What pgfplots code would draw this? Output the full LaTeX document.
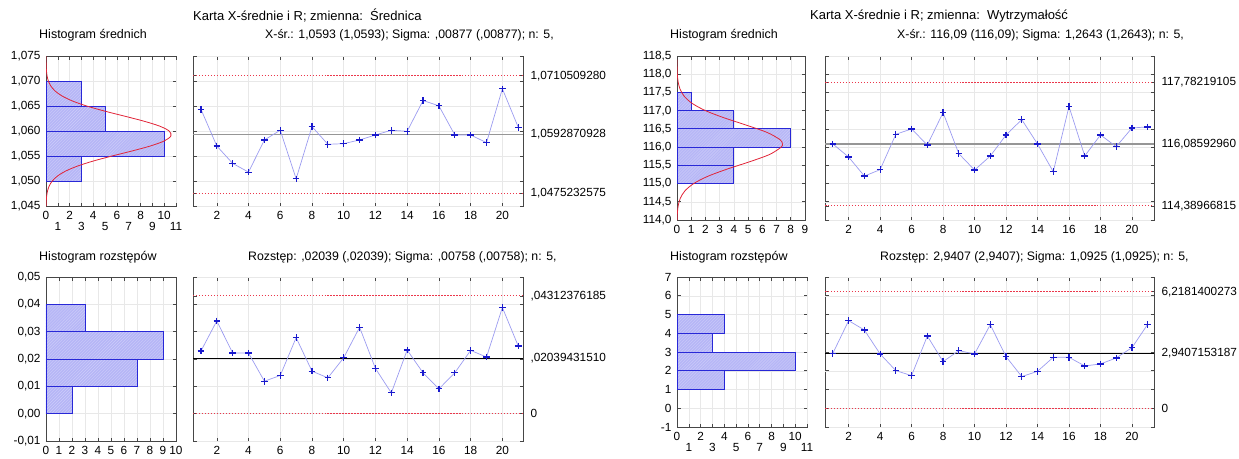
\documentclass[border=0pt]{standalone}
\usepackage{fontspec}
\setmainfont{Liberation Sans}
\usepackage{pgfplots}
\pgfplotsset{compat=1.18}
\usetikzlibrary{patterns}

\definecolor{axgray}{RGB}{70,70,70}
\definecolor{gridgray}{RGB}{232,232,232}
\definecolor{barfill}{RGB}{182,182,246}
\definecolor{bardraw}{RGB}{40,40,215}
\definecolor{barhatch}{RGB}{205,205,250}
\definecolor{curvered}{RGB}{225,35,55}
\definecolor{lineblue}{RGB}{155,155,240}
\definecolor{markblue}{RGB}{25,25,205}
\definecolor{limred}{RGB}{235,55,75}
\definecolor{clgray}{RGB}{150,150,150}

\newcommand{\fs}{\fontsize{11.8bp}{13bp}\selectfont}
\newcommand{\ft}{\fontsize{13bp}{15bp}\selectfont}
\newcommand{\fsub}{\fontsize{12.3bp}{14bp}\selectfont}
\newcommand{\fh}{\fontsize{12.5bp}{14bp}\selectfont}

\pgfplotsset{
  panel/.style={scale only axis, anchor=south west,
    axis line style={axgray, line width=0.9pt},
    tick style={axgray, line width=0.6pt},
    major tick length=3.5bp,
    ticklabel style={font=\fs},
    scaled y ticks=false, scaled x ticks=false,
    grid=major, grid style={gridgray, line width=0.5pt},
    /pgf/number format/assume math mode=true,
    /pgf/number format/use comma,
    xticklabel style={yshift=-2bp}},
  hist/.style={panel, yticklabel style={xshift=-2bp}},
  prec/.style={/pgf/number format/fixed, /pgf/number format/fixed zerofill,
    /pgf/number format/precision=#1},
  twin/.style={extra x ticks={1,3,5,7,9,11},
    extra x tick style={grid=major, xticklabel style={yshift=-11bp}}},
  ctrl/.style={panel, xtick={2,4,...,20}, ymajorgrids=false,
    yticklabel pos=right, yticklabel style={xshift=4bp},
    extra y tick labels={}, extra y tick style={grid=major}},
  bars/.style={xbar, bar shift=0pt, fill=barfill, draw=bardraw, line width=0.8pt,
    postaction={pattern=north east lines, pattern color=barhatch}},
  normc/.style={curvered, line width=0.8pt, smooth, no marks},
  series/.style={lineblue, line width=0.7pt, mark=+, mark size=3.3bp,
    mark options={draw=markblue, line width=1.2pt}},
  lim/.style={limred, dash pattern=on 1.5pt off 1.5pt, line width=0.9pt, no marks},
  cl/.style={no marks},
}

\begin{document}
\begin{tikzpicture}
\path[use as bounding box] (0,0) rectangle (1239bp,-459bp);

% ---------- Srednica: histogram srednich
\begin{axis}[hist, twin, at={(46bp,-206bp)}, width=130bp, height=150bp,
  xmin=0, xmax=11, ymin=1.045, ymax=1.075,
  xtick={0,2,4,6,8,10},
  ytick={1.045,1.05,1.055,1.06,1.065,1.07,1.075},
  yticklabel style={prec=3}]
\addplot[bars, bar width=0.005] coordinates {(3,1.0525) (10,1.0575) (5,1.0625) (3,1.0675)};
\addplot[normc] coordinates {
(0.009,1.045) (0.023,1.046) (0.056,1.047) (0.128,1.048) (0.269,1.049) (0.530,1.050)
(0.976,1.051) (1.675,1.052) (2.683,1.053) (4.007,1.054) (5.587,1.055) (7.271,1.056)
(8.827,1.057) (9.998,1.058) (10.567,1.059) (10.421,1.060) (9.591,1.061) (8.235,1.062)
(6.599,1.063) (4.933,1.064) (3.442,1.065) (2.241,1.066) (1.360,1.067) (0.771,1.068)
(0.408,1.069) (0.201,1.070) (0.093,1.071) (0.040,1.072) (0.016,1.073) (0.006,1.074) (0.002,1.075)};
\end{axis}

% ---------- Srednica: karta X-srednie
\begin{axis}[ctrl, at={(193bp,-206bp)}, width=330bp, height=150bp,
  xmin=0.5, xmax=21.3, ymin=1.045, ymax=1.075,
  ytick={1.0475232575,1.0592870928,1.0710509280},
  yticklabels={{1,0475232575},{1,0592870928},{1,0710509280}},
  extra y ticks={1.045,1.05,1.055,1.06,1.065,1.07,1.075}]
\addplot[lim] coordinates {(0.5,1.0710509280) (21.3,1.0710509280)};
\addplot[lim] coordinates {(0.5,1.0475232575) (21.3,1.0475232575)};
\addplot[cl, clgray, line width=1.6pt] coordinates {(0.5,1.0592870928) (21.3,1.0592870928)};
\addplot[series] coordinates {
(1,1.06436) (2,1.05700) (3,1.05352) (4,1.05178) (5,1.05821) (6,1.06015) (7,1.05044)
(8,1.06088) (9,1.05734) (10,1.05747) (11,1.05821) (12,1.05921) (13,1.06015) (14,1.05995)
(15,1.06610) (16,1.06503) (17,1.05921) (18,1.05921) (19,1.05767) (20,1.06844) (21,1.06075)};
\end{axis}

% ---------- Srednica: histogram rozstepow
\begin{axis}[hist, at={(46bp,-441bp)}, width=130bp, height=164bp,
  xmin=0, xmax=10, ymin=-0.01, ymax=0.05,
  xtick={0,1,...,10},
  ytick={-0.01,0,0.01,0.02,0.03,0.04,0.05},
  yticklabel style={prec=2}]
\addplot[bars, bar width=0.01] coordinates {(2,0.005) (7,0.015) (9,0.025) (3,0.035)};
\end{axis}

% ---------- Srednica: karta R
\begin{axis}[ctrl, at={(193bp,-441bp)}, width=330bp, height=164bp,
  xmin=0.5, xmax=21.3, ymin=-0.01, ymax=0.05,
  ytick={0,0.02039431510,0.04312376185},
  yticklabels={{0},{,02039431510},{,04312376185}},
  extra y ticks={-0.01,0,0.01,0.02,0.03,0.04,0.05}]
\addplot[lim] coordinates {(0.5,0.04312376185) (21.3,0.04312376185)};
\addplot[lim] coordinates {(0.5,0) (21.3,0)};
\addplot[cl, black, line width=0.8pt] coordinates {(0.5,0.02039431510) (21.3,0.02039431510)};
\addplot[series] coordinates {
(1,0.02291) (2,0.03393) (3,0.02217) (4,0.02217) (5,0.01188) (6,0.01397) (7,0.02781)
(8,0.01556) (9,0.01311) (10,0.02046) (11,0.03161) (12,0.01654) (13,0.00760) (14,0.02328)
(15,0.01495) (16,0.00907) (17,0.01495) (18,0.02316) (19,0.02071) (20,0.03884) (21,0.02475)};
\end{axis}

% ---------- Wytrzymalosc: histogram srednich
\begin{axis}[hist, at={(677bp,-220bp)}, width=128bp, height=164bp,
  xmin=0, xmax=9, ymin=114, ymax=118.5,
  xtick={0,1,...,9},
  ytick={114,114.5,115,115.5,116,116.5,117,117.5,118,118.5},
  yticklabel style={prec=1}]
\addplot[bars, bar width=0.5] coordinates {(4,115.25) (4,115.75) (8,116.25) (4,116.75) (1,117.25)};
\addplot[normc] coordinates {
(0.008,114.0) (0.028,114.2) (0.087,114.4) (0.235,114.6) (0.558,114.8) (1.171,115.0)
(2.170,115.2) (3.549,115.4) (5.121,115.6) (6.520,115.8) (7.325,116.0) (7.41,116.086)
(7.261,116.2) (6.351,116.4) (4.902,116.6) (3.339,116.8) (2.006,117.0) (1.064,117.2)
(0.498,117.4) (0.205,117.6) (0.075,117.8) (0.024,118.0) (0.007,118.2) (0.002,118.4)};
\end{axis}

% ---------- Wytrzymalosc: karta X-srednie
\begin{axis}[ctrl, at={(825bp,-220bp)}, width=329bp, height=164bp,
  xmin=0.5, xmax=21.4, ymin=114, ymax=118.5,
  ytick={114.38966815,116.08592960,117.78219105},
  yticklabels={{114,38966815},{116,08592960},{117,78219105}},
  extra y ticks={114,114.5,115,115.5,116,116.5,117,117.5,118,118.5}]
\addplot[lim] coordinates {(0.5,117.78219105) (21.4,117.78219105)};
\addplot[lim] coordinates {(0.5,114.38966815) (21.4,114.38966815)};
\addplot[cl, clgray, line width=1.6pt] coordinates {(0.5,116.08592960) (21.4,116.08592960)};
\addplot[series] coordinates {
(1,116.086) (2,115.728) (3,115.206) (4,115.380) (5,116.352) (6,116.499) (7,116.058)
(8,116.948) (9,115.820) (10,115.371) (11,115.756) (12,116.334) (13,116.755) (14,116.086)
(15,115.325) (16,117.113) (17,115.756) (18,116.334) (19,116.013) (20,116.526) (21,116.554)};
\end{axis}

% ---------- Wytrzymalosc: histogram rozstepow
\begin{axis}[hist, twin, at={(677bp,-427bp)}, width=130bp, height=150bp,
  xmin=0, xmax=11, ymin=-1, ymax=7,
  xtick={0,2,4,6,8,10},
  ytick={-1,0,1,2,3,4,5,6,7}]
\addplot[bars, bar width=1] coordinates {(4,1.5) (10,2.5) (3,3.5) (4,4.5)};
\end{axis}

% ---------- Wytrzymalosc: karta R
\begin{axis}[ctrl, at={(825bp,-427bp)}, width=329bp, height=150bp,
  xmin=0.5, xmax=21.4, ymin=-1, ymax=7,
  ytick={0,2.9407153187,6.2181400273},
  yticklabels={{0},{2,9407153187},{6,2181400273}},
  extra y ticks={-1,0,1,2,3,4,5,6,7}]
\addplot[lim] coordinates {(0.5,6.2181400273) (21.4,6.2181400273)};
\addplot[lim] coordinates {(0.5,0) (21.4,0)};
\addplot[cl, black, line width=0.8pt] coordinates {(0.5,2.9407153187) (21.4,2.9407153187)};
\addplot[series] coordinates {
(1,2.931) (2,4.672) (3,4.175) (4,2.896) (5,2.007) (6,1.741) (7,3.855)
(8,2.487) (9,3.073) (10,2.896) (11,4.459) (12,2.754) (13,1.688) (14,1.972)
(15,2.718) (16,2.718) (17,2.256) (18,2.363) (19,2.683) (20,3.233) (21,4.477)};
\end{axis}

% ---------- titles
\begin{scope}[every node/.style={anchor=west, inner sep=0pt}]
\node[font=\ft] at (193bp,-16bp) {Karta X-średnie i R; zmienna:\ \ Średnica};
\node[font=\fsub] at (265bp,-35bp) {X-śr.: 1,0593 (1,0593); Sigma: ,00877 (,00877); n: 5,};
\node[font=\fh] at (39bp,-35bp) {Histogram średnich};
\node[font=\fh] at (39bp,-257bp) {Histogram rozstępów};
\node[font=\fsub] at (248bp,-257bp) {Rozstęp: ,02039 (,02039); Sigma: ,00758 (,00758); n: 5,};
\node[font=\ft] at (810bp,-16bp) {Karta X-średnie i R; zmienna:\ \ Wytrzymałość};
\node[font=\fsub] at (897bp,-35bp) {X-śr.: 116,09 (116,09); Sigma: 1,2643 (1,2643); n: 5,};
\node[font=\fh] at (670bp,-35bp) {Histogram średnich};
\node[font=\fh] at (670bp,-257bp) {Histogram rozstępów};
\node[font=\fsub] at (880bp,-257bp) {Rozstęp: 2,9407 (2,9407); Sigma: 1,0925 (1,0925); n: 5,};
\end{scope}
\end{tikzpicture}
\end{document}
